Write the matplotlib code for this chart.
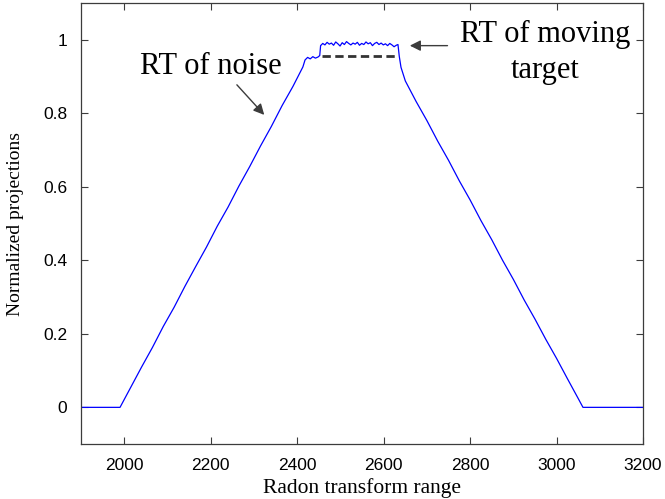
import numpy as np
import matplotlib
matplotlib.use("Agg")
import matplotlib.pyplot as plt

# Radon transform profile (normalised projections vs. transform range)
rise_x = [1900, 1990, 2015, 2040, 2065, 2090, 2115, 2140, 2165, 2190, 2215,
          2240, 2265, 2290, 2315, 2340, 2365, 2390, 2413,
          2418, 2424, 2430, 2436, 2442, 2448, 2452]
rise_y = [0.0, 0.0, 0.055, 0.110, 0.163, 0.220, 0.272, 0.329, 0.383, 0.436, 0.493,
          0.545, 0.602, 0.655, 0.711, 0.764, 0.821, 0.873, 0.926,
          0.945, 0.952, 0.948, 0.954, 0.950, 0.953, 0.957]

top_x = [2454, 2459, 2464, 2469, 2474, 2479, 2484, 2489, 2494, 2499, 2504,
         2509, 2514, 2519, 2524, 2529, 2534, 2539, 2544, 2549, 2554, 2559,
         2564, 2569, 2574, 2579, 2584, 2589, 2594, 2599, 2604, 2609, 2614,
         2619, 2624, 2629]
top_y = [0.984, 0.990, 0.986, 0.993, 0.988, 0.991, 0.985, 0.994, 0.989, 0.983,
         0.992, 0.987, 0.995, 0.990, 0.986, 0.991, 0.988, 0.993, 0.985, 0.990,
         0.987, 0.994, 0.989, 0.992, 0.984, 0.990, 0.993, 0.987, 0.991, 0.986,
         0.989, 0.984, 0.990, 0.986, 0.981, 0.985]

fall_x = [2633, 2636, 2640, 2650, 2675, 2700, 2725, 2750, 2775, 2800, 2825,
          2850, 2875, 2900, 2925, 2950, 2975, 3000, 3025, 3050, 3061, 3200]
fall_y = [0.987, 0.955, 0.925, 0.888, 0.832, 0.780, 0.724, 0.672, 0.616, 0.564,
          0.508, 0.456, 0.400, 0.348, 0.292, 0.240, 0.185, 0.133, 0.078, 0.024,
          0.0, 0.0]

# level of the noise contribution under the target plateau
noise_level_x = [2457, 2631]
noise_level_y = [0.956, 0.956]

x = rise_x + top_x + fall_x
y = rise_y + top_y + fall_y

xticks = [2000, 2200, 2400, 2600, 2800, 3000, 3200]
yticks = [0, 0.2, 0.4, 0.6, 0.8, 1]
ytick_labels = ["0", "0.2", "0.4", "0.6", "0.8", "1"]

SERIF = "Liberation Serif"
SANS = "Liberation Sans"
EDGE = "#3c3c3c"

fig = plt.figure(figsize=(6.65, 4.99), dpi=100)
ax = fig.add_axes([0.122, 0.110, 0.845, 0.884])

ax.plot(x, y, color="#0000ff", lw=0.9)
ax.plot(noise_level_x, noise_level_y, color="#333333", lw=2.0,
        linestyle=(0, (3.0, 1.6)))

ax.set_xlim(1900, 3200)
ax.set_ylim(-0.1, 1.1)
ax.set_xticks(xticks)
ax.set_yticks(yticks)
ax.set_yticklabels(ytick_labels)

ax.tick_params(direction="in", length=5, width=0.8, color=EDGE,
               top=True, right=True, labelsize=12.5)
ax.tick_params(axis="x", pad=10)
ax.tick_params(axis="y", pad=10)
for lab in ax.get_xticklabels() + ax.get_yticklabels():
    lab.set_fontfamily(SANS)
for sp in ax.spines.values():
    sp.set_color(EDGE)
    sp.set_linewidth(0.9)

ax.set_xlabel("Radon transform range", fontfamily=SERIF, fontsize=15.5, labelpad=4)
ax.set_ylabel("Normalized projections", fontfamily=SERIF, fontsize=14, labelpad=14)

arrow = dict(arrowstyle="-|>", color=EDGE, lw=1.0, mutation_scale=16)
ax.annotate("RT of noise", xy=(2328, 0.790), xytext=(2201, 0.926),
            fontfamily=SERIF, fontsize=22, ha="center", va="center")
ax.annotate("", xy=(2328, 0.790), xytext=(2256, 0.883), arrowprops=arrow)

ax.text(2973, 0.966, "RT of moving\ntarget", fontfamily=SERIF, fontsize=22,
        ha="center", va="center", linespacing=1.3)
ax.annotate("", xy=(2654, 0.984), xytext=(2754, 0.984), arrowprops=arrow)

fig.savefig("out.png", dpi=100)
